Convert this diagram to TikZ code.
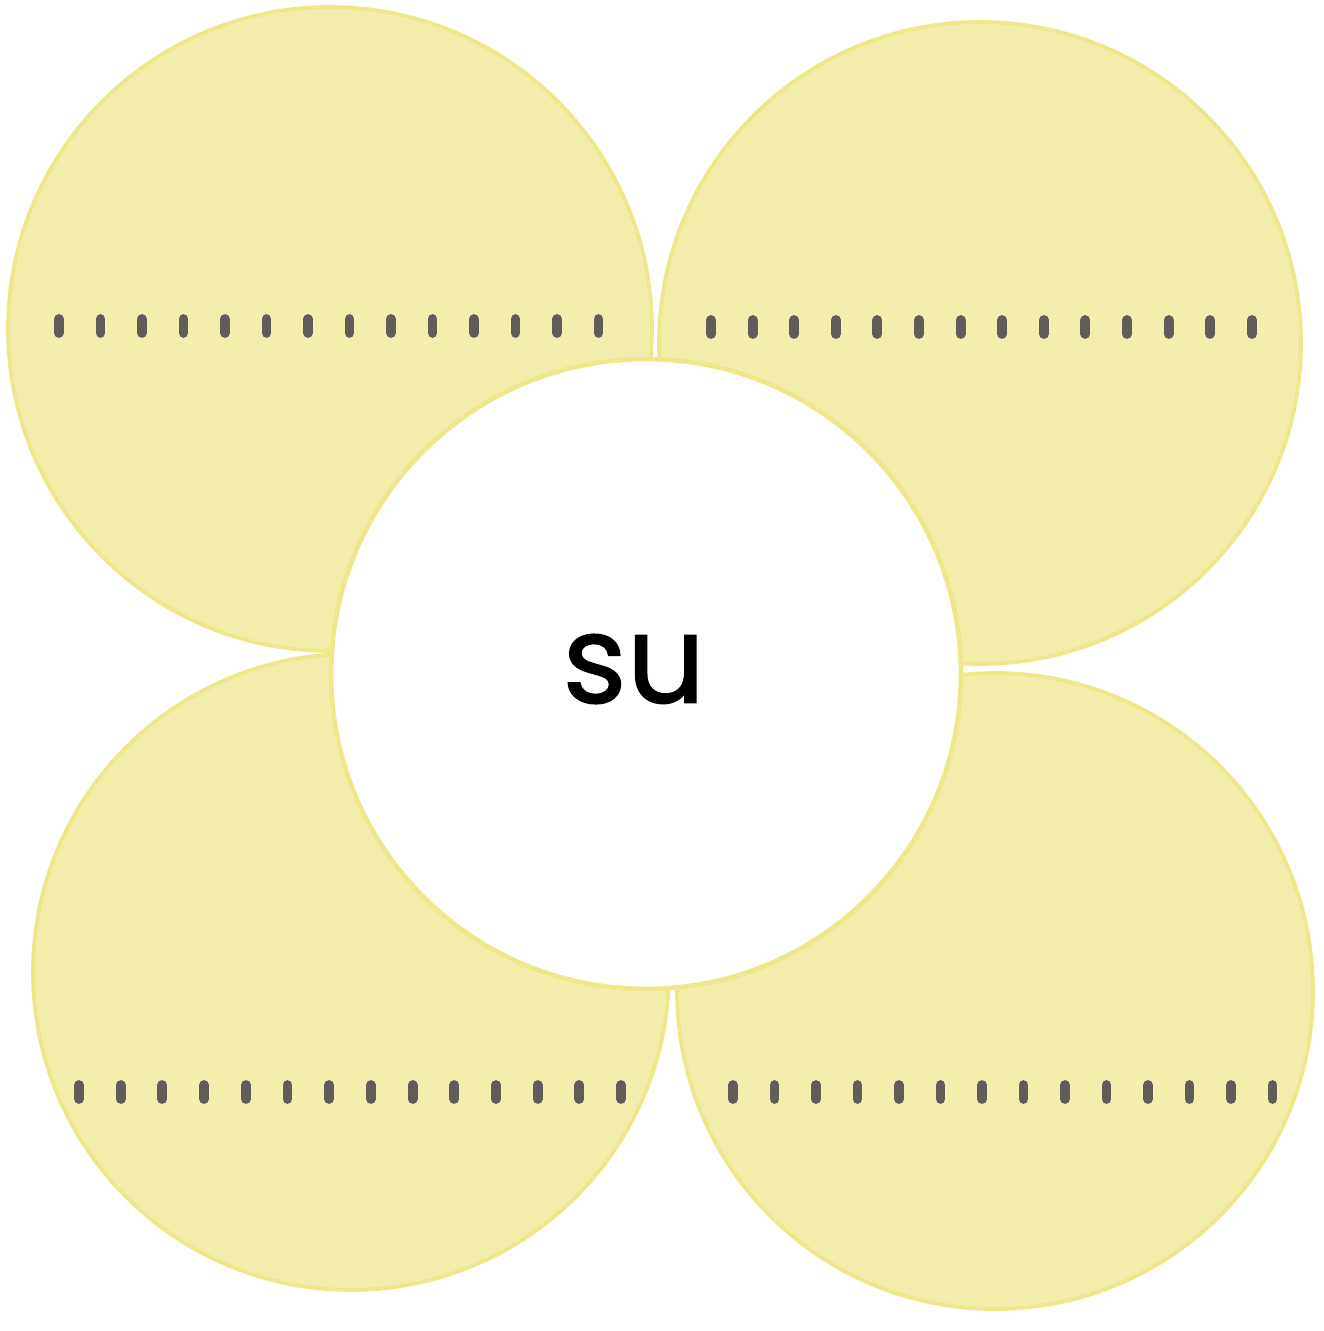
\documentclass[tikz,border=0pt]{standalone}
\usepackage{fontspec}
\setmainfont{Poppins}
\newfontfamily\wordfont[FakeBold=1.2]{Poppins}
\usepackage{tikz}
\usepackage{xcolor}
\definecolor{petalfill}{HTML}{F4EEAC}
\definecolor{petalline}{HTML}{EFE88A}
\definecolor{dotgray}{HTML}{625B5C}

\begin{document}
\begin{tikzpicture}[
  x=0.02cm,y=-0.02cm,
  petal/.style={circle,draw=petalline,line width=2.2pt,fill=petalfill,inner sep=0pt},
  hub/.style={circle,draw=petalline,line width=2.6pt,fill=white,inner sep=0pt,minimum size=12.6cm},
  dotline/.style={draw=dotgray,line width=5.6pt,line cap=round}
]
\useasboundingbox (0,0) rectangle (1324,1331);
\node[petal,minimum size=12.88cm] (tl) at (330,329) {};
\node[petal,minimum size=12.84cm] (tr) at (980,343) {};
\node[petal,minimum size=12.72cm] (bl) at (351,972) {};
\node[petal,minimum size=12.72cm] (br) at (995,991) {};
\node[hub] (mid) at (646,674) {};
\node[font=\wordfont\fontsize{70}{80}\selectfont] (word) at (634,669) {su};
% dotted writing lines
\foreach \i in {0,...,13} {
  \draw[dotline] ({59+\i*41.5},319) -- ++(0,14);
  \draw[dotline] ({711+\i*41.6},320) -- ++(0,14);
  \draw[dotline] ({79+\i*41.7},1085) -- ++(0,14);
  \draw[dotline] ({733+\i*41.5},1085) -- ++(0,14);
}
\end{tikzpicture}
\end{document}
